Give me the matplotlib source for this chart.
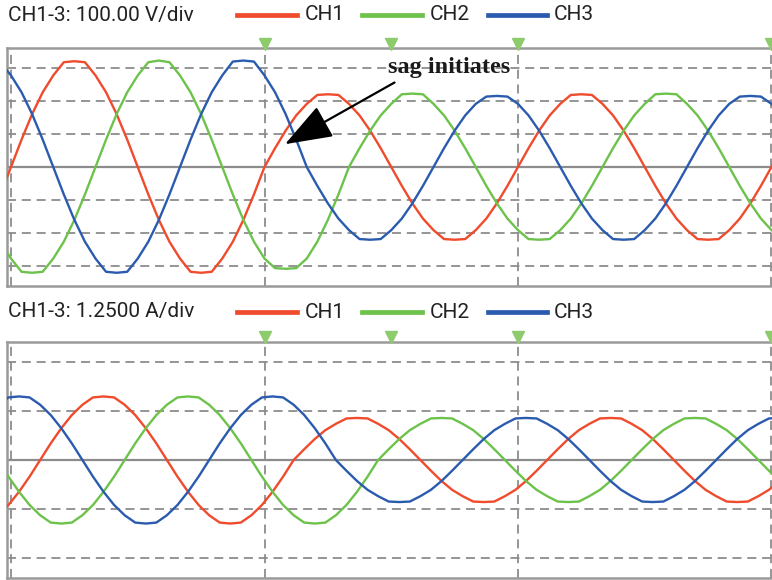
import numpy as np
import matplotlib
matplotlib.use("Agg")
import matplotlib.pyplot as plt
from matplotlib import font_manager

# ---------------- data (in divisions) ----------------
# time axis in mains cycles (one vertical grid division = one cycle)
SAMPLES_PER_CYCLE = 24
V_FIRST, V_LAST = -1, 73          # voltage sample indices
I_FIRST, I_LAST = -4, 70          # current sample indices
I_LAG = 0.115                     # current lags voltage (cycles)

channels = ["CH1", "CH2", "CH3"]
colors = ["#EF4B2C", "#6DC24B", "#2B5BAE"]
v_title = "CH1-3: 100.00 V/div"
i_title = "CH1-3: 1.2500 A/div"
markers_t = [1.0, 1.5, 2.0, 3.0]
sag_label = "sag initiates"
sag_point = (1.081, 0.69)
sag_text = (1.730, 3.02)

v_ch1 = [-0.83,
         0, 0.83, 1.60, 2.26, 2.77, 3.17, 3.20, 3.17, 2.77, 2.26, 1.60, 0.83,
         0, -0.83, -1.60, -2.26, -2.77, -3.17, -3.20, -3.17, -2.77, -2.26, -1.60, -0.83,
         0, 0.57, 1.10, 1.56, 1.91, 2.18, 2.20, 2.18, 1.91, 1.56, 1.10, 0.57,
         0, -0.57, -1.10, -1.56, -1.91, -2.18, -2.20, -2.18, -1.91, -1.56, -1.10, -0.57,
         0, 0.57, 1.10, 1.56, 1.91, 2.18, 2.20, 2.18, 1.91, 1.56, 1.10, 0.57,
         0, -0.57, -1.10, -1.56, -1.91, -2.18, -2.20, -2.18, -1.91, -1.56, -1.10, -0.57,
         0, 0.57]
v_ch2 = [-2.26,
         -2.77, -3.17, -3.20, -3.17, -2.77, -2.26, -1.60, -0.83,
         0, 0.83, 1.60, 2.26, 2.77, 3.17, 3.22, 3.17, 2.77, 2.26, 1.60, 0.83,
         0, -0.83, -1.60, -2.26, -2.77, -3.06, -3.08, -3.06, -2.77, -2.26, -1.60, -0.83,
         0, 0.57, 1.10, 1.56, 1.91, 2.20, 2.22, 2.20, 1.91, 1.56, 1.10, 0.57,
         0, -0.57, -1.10, -1.56, -1.91, -2.18, -2.20, -2.18, -1.91, -1.56, -1.10, -0.57,
         0, 0.57, 1.10, 1.56, 1.91, 2.20, 2.22, 2.20, 1.91, 1.56, 1.10, 0.57,
         0, -0.57, -1.10, -1.56, -1.91, -2.18]
v_ch3 = [3.17,
         2.77, 2.26, 1.60, 0.83,
         0, -0.83, -1.60, -2.26, -2.77, -3.17, -3.20, -3.17, -2.77, -2.26, -1.60, -0.83,
         0, 0.83, 1.60, 2.26, 2.77, 3.19, 3.22, 3.19, 2.77, 2.26, 1.60, 0.83,
         0, -0.57, -1.10, -1.56, -1.91, -2.18, -2.20, -2.18, -1.91, -1.56, -1.10, -0.57,
         0, 0.57, 1.10, 1.56, 1.91, 2.13, 2.15, 2.13, 1.91, 1.56, 1.10, 0.57,
         0, -0.57, -1.10, -1.56, -1.91, -2.18, -2.20, -2.18, -1.91, -1.56, -1.10, -0.57,
         0, 0.57, 1.10, 1.56, 1.91, 2.13, 2.15, 2.13, 1.91, 1.56]

i_ch1 = [-1.13, -0.92, -0.65, -0.34,
         0, 0.34, 0.65, 0.92, 1.13, 1.28, 1.30, 1.28, 1.13, 0.92, 0.65, 0.34,
         0, -0.34, -0.65, -0.92, -1.13, -1.28, -1.30, -1.28, -1.13, -0.92, -0.65, -0.34,
         0, 0.22, 0.43, 0.61, 0.74, 0.85, 0.86, 0.85, 0.74, 0.61, 0.43, 0.22,
         0, -0.22, -0.43, -0.61, -0.74, -0.85, -0.86, -0.85, -0.74, -0.61, -0.43, -0.22,
         0, 0.22, 0.43, 0.61, 0.74, 0.85, 0.86, 0.85, 0.74, 0.61, 0.43, 0.22,
         0, -0.22, -0.43, -0.61, -0.74, -0.85, -0.86, -0.85, -0.74, -0.61, -0.43]
i_ch2 = [0,
         -0.34, -0.65, -0.92, -1.13, -1.28, -1.30, -1.28, -1.13, -0.92, -0.65, -0.34,
         0, 0.34, 0.65, 0.92, 1.13, 1.28, 1.30, 1.28, 1.13, 0.92, 0.65, 0.34,
         0, -0.34, -0.65, -0.92, -1.13, -1.28, -1.30, -1.28, -1.13, -0.92, -0.65, -0.34,
         0, 0.22, 0.43, 0.61, 0.74, 0.85, 0.86, 0.85, 0.74, 0.61, 0.43, 0.22,
         0, -0.22, -0.43, -0.61, -0.74, -0.85, -0.86, -0.85, -0.74, -0.61, -0.43, -0.22,
         0, 0.22, 0.43, 0.61, 0.74, 0.85, 0.86, 0.85, 0.74, 0.61, 0.43, 0.22,
         0, -0.22, -0.43]
i_ch3 = [1.13, 1.28, 1.30, 1.28, 1.13, 0.92, 0.65, 0.34,
         0, -0.34, -0.65, -0.92, -1.13, -1.28, -1.30, -1.28, -1.13, -0.92, -0.65, -0.34,
         0, 0.34, 0.65, 0.92, 1.13, 1.28, 1.30, 1.28, 1.13, 0.92, 0.65, 0.34,
         0, -0.22, -0.43, -0.61, -0.74, -0.85, -0.86, -0.85, -0.74, -0.61, -0.43, -0.22,
         0, 0.22, 0.43, 0.61, 0.74, 0.85, 0.86, 0.85, 0.74, 0.61, 0.43, 0.22,
         0, -0.22, -0.43, -0.61, -0.74, -0.85, -0.86, -0.85, -0.74, -0.61, -0.43, -0.22,
         0, 0.22, 0.43, 0.61, 0.74, 0.85, 0.86]

# ---------------- figure ----------------
def pick(names):
    avail = {f.name for f in font_manager.fontManager.ttflist}
    for n in names:
        if n in avail:
            return n
    return "DejaVu Sans"

ui_font = pick(["Liberation Sans Narrow", "Roboto", "DejaVu Sans"])
serif_font = pick(["Liberation Serif", "DejaVu Serif"])

W, H = 772, 580
fig = plt.figure(figsize=(W / 100, H / 100), dpi=100)
fig.patch.set_facecolor("white")

t_v = np.arange(V_FIRST, V_LAST + 1) / SAMPLES_PER_CYCLE
t_i = I_LAG + np.arange(I_FIRST, I_LAST + 1) / SAMPLES_PER_CYCLE

GRID = "#8c8c8c"
FRAME = "#9a9a9a"
X0, X1 = -0.0158, 3.002


def fx(px):
    return px / W


def fy(py):
    return 1 - py / H


def panel(top_px, bot_px, ylim, hgrid, series, t, title, title_y):
    ax = fig.add_axes([fx(7), fy(bot_px), fx(772 - 7), (bot_px - top_px) / H])
    ax.set_xlim(X0, X1)
    ax.set_ylim(-ylim, ylim)
    for g in hgrid:
        ax.axhline(g, color=GRID, lw=1.3, ls=(0, (5, 3.2)), zorder=1)
    ax.axhline(0, color=GRID, lw=1.6, zorder=1)
    for g in [0, 1, 2, 3]:
        ax.axvline(g, color=GRID, lw=1.3, ls=(0, (5, 3.2)), zorder=1)
    for vals, c in zip(series, colors):
        ax.plot(t, vals, color=c, lw=1.7, zorder=3, solid_joinstyle="round")
    ax.set_xticks([])
    ax.set_yticks([])
    for s in ["top", "left", "bottom"]:
        ax.spines[s].set_color(FRAME)
        ax.spines[s].set_linewidth(1.8)
    ax.spines["right"].set_visible(False)
    # trigger markers above the frame
    ax.plot(markers_t, [1.0 + 0.018] * len(markers_t), ls="none", marker="v",
            ms=9, color="#8DCB6C", transform=ax.get_xaxis_transform(),
            clip_on=False, zorder=5)
    # header with title and legend
    fig.text(fx(8), fy(title_y), title, fontsize=15, family=ui_font,
             color="#222222", va="center", ha="left")
    leg_x = [(237, 297, 305), (362, 422, 430), (488, 547, 554)]
    for (a, b, tx), c, name in zip(leg_x, colors, channels):
        fig.add_artist(plt.Line2D([fx(a), fx(b)], [fy(title_y), fy(title_y)],
                                  color=c, lw=3.4, transform=fig.transFigure))
        fig.text(fx(tx), fy(title_y), name, fontsize=15, family=ui_font,
                 color="#222222", va="center", ha="left")
    return ax


ax_v = panel(48, 286, 3.6, [-3, -2, -1, 1, 2, 3],
             [v_ch1, v_ch2, v_ch3], t_v, v_title, 15)
ax_i = panel(341.7, 578.3, 2.42, [-2, -1, 1, 2],
             [i_ch1, i_ch2, i_ch3], t_i, i_title, 312)

ax_v.annotate(sag_label, xy=sag_point, xytext=sag_text,
              fontsize=17.5, fontweight="bold", family=serif_font,
              color="#1a1a1a", ha="center", va="center", zorder=6,
              arrowprops=dict(arrowstyle="-|>,head_length=1.7,head_width=0.62",
                              color="black", lw=1.6, shrinkA=3, shrinkB=0,
                              relpos=(0.12, 0.0)))

fig.savefig("out.png", dpi=100, facecolor="white")
